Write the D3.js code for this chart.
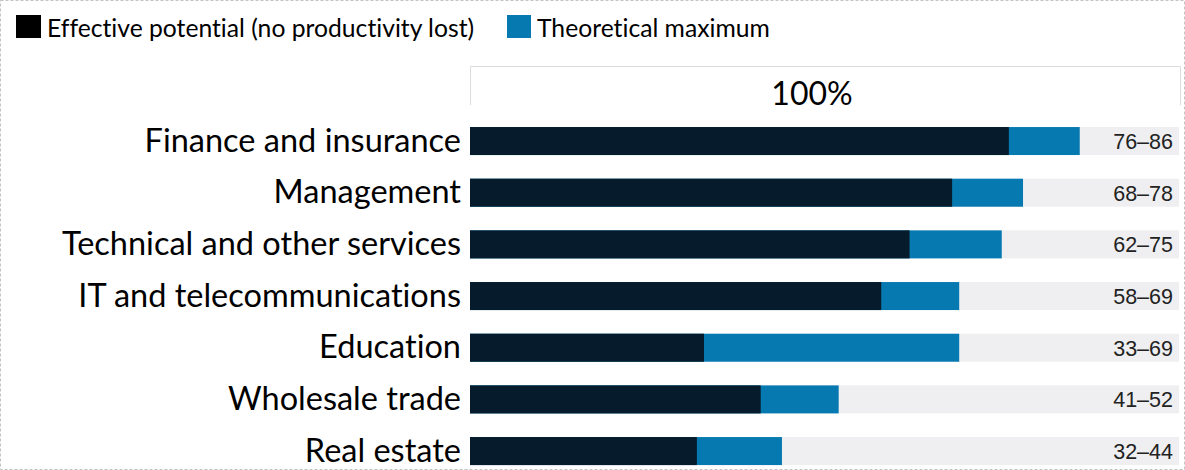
<!DOCTYPE html>
<html><head><meta charset="utf-8">
<script src="https://cdn.jsdelivr.net/npm/d3@7"></script>
<style>body{margin:0;background:#fff}svg{display:block}text{font-variant-ligatures:none;font-feature-settings:"liga" 0,"clig" 0}</style>
</head><body>
<script>
const categories = ["Finance and insurance","Management","Technical and other services","IT and telecommunications","Education","Wholesale trade","Real estate"];
const effective = [76,68,62,58,33,41,32];
const theoretical = [86,78,75,69,69,52,44];
const seriesNames = ["Effective potential (no productivity lost)","Theoretical maximum"];
const colors = ["#061b2c","#0679b0"];
const W=1185,H=470;
const svg=d3.select("body").append("svg").attr("width",W).attr("height",H);
svg.append("rect").attr("x",0.5).attr("y",0.5).attr("width",W-1).attr("height",H-1)
  .attr("fill","none").attr("stroke","#c3c3c3").attr("stroke-dasharray","3,2");
const x=d3.scaleLinear().domain([0,100]).range([470,1179]);
const y=d3.scaleBand().domain(categories).range([116.7,475.4]).paddingInner(0.458).paddingOuter(0.2);
// header box
svg.append("path").attr("d",`M470.5,105V66.5H1180.5V105`).attr("fill","none").attr("stroke","#dcdcdc");
svg.append("text").attr("x",812).attr("y",105).attr("text-anchor","middle")
  .attr("font-family","Lato, sans-serif").attr("font-size",32).attr("fill","#000").text("100%");
const g=svg.append("g");
categories.forEach((c,i)=>{
  const yy=y(c),h=y.bandwidth();
  g.append("rect").attr("x",x(0)).attr("y",yy).attr("width",x(100)-x(0)).attr("height",h).attr("fill","#efeff1");
  g.append("rect").attr("x",x(0)).attr("y",yy).attr("width",x(theoretical[i])-x(0)).attr("height",h).attr("fill",colors[1]);
  g.append("rect").attr("x",x(0)).attr("y",yy).attr("width",x(effective[i])-x(0)).attr("height",h).attr("fill",colors[0]);
  g.append("text").attr("x",461).attr("y",yy+h/2+10.5).attr("text-anchor","end")
    .attr("font-family","Lato, sans-serif").attr("font-size",32.5).attr("fill","#000").text(c);
  g.append("text").attr("x",1173).attr("y",yy+h/2+8).attr("text-anchor","end")
    .attr("font-family","Liberation Sans, Arial, sans-serif").attr("font-size",21.5).attr("fill","#222")
    .text(effective[i]+"\u2013"+theoretical[i]);
});
// legend
const lg=svg.append("g");
lg.append("rect").attr("x",16).attr("y",15).attr("width",25).attr("height",23).attr("fill","#000");
lg.append("text").attr("x",47).attr("y",27).attr("dominant-baseline","central").attr("font-family","Lato, sans-serif").attr("font-size",24.7).text(seriesNames[0]);
lg.append("rect").attr("x",507).attr("y",15).attr("width",24).attr("height",23).attr("fill",colors[1]);
lg.append("text").attr("x",537).attr("y",27).attr("dominant-baseline","central").attr("font-family","Lato, sans-serif").attr("font-size",24.7).text(seriesNames[1]);
</script>
</body></html>
